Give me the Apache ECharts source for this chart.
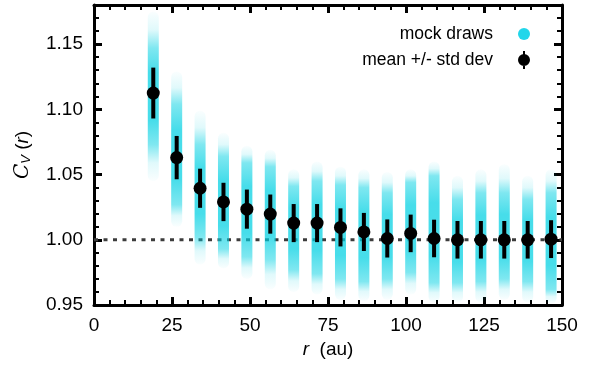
<!DOCTYPE html>
<html><head><meta charset="utf-8">
<script src="https://cdn.jsdelivr.net/npm/echarts@6/dist/echarts.min.js"></script>
<style>html,body{margin:0;padding:0;background:#fff}#c{width:589px;height:365px}</style>
</head><body><div id="c"></div>
<script>
// ---- data ----
const radii      = [19, 26.5, 34, 41.5, 49, 56.5, 64, 71.5, 79, 86.5, 94, 101.5, 109, 116.5, 124, 131.5, 139, 146.5];
const meanCv     = [1.1125, 1.063, 1.0395, 1.029, 1.0235, 1.0197, 1.0128, 1.0128, 1.0095, 1.006, 1.001, 1.0049, 1.001, 1.000, 1.000, 1.000, 1.000, 1.0005];
const stdCv      = [0.0195, 0.0166, 0.015, 0.0147, 0.015, 0.015, 0.0146, 0.0146, 0.0146, 0.0146, 0.0146, 0.0144, 0.0144, 0.0144, 0.0144, 0.0144, 0.0144, 0.0145];
// extents of the mock-draw clouds (faint tail top, dense top, dense bottom, faint tail bottom)
const drawFaintHi = [1.175, 1.129, 1.099, 1.082, 1.072, 1.069, 1.054, 1.060, 1.056, 1.054, 1.052, 1.054, 1.060, 1.049, 1.054, 1.058, 1.049, 1.054];
const drawCoreHi  = [1.147, 1.104, 1.073, 1.064, 1.059, 1.056, 1.041, 1.045, 1.042, 1.040, 1.036, 1.044, 1.049, 1.031, 1.036, 1.036, 1.031, 1.036];
const drawCoreLo  = [1.073, 1.027, 1.002, 0.993, 0.987, 0.985, 0.977, 0.974, 0.970, 0.968, 0.970, 0.975, 0.967, 0.967, 0.968, 0.970, 0.968, 0.962];
const drawFaintLo = [1.045, 1.010, 0.981, 0.978, 0.970, 0.962, 0.960, 0.958, 0.954, 0.953, 0.954, 0.958, 0.952, 0.952, 0.952, 0.954, 0.952, 0.951];
const refLineX = [0, 150];
const refLineY = 1.0;
const xRange = [0, 150];
const yRange = [0.95, 1.18];

const FONT = '"Liberation Sans", Arial, Helvetica, sans-serif';
const CYAN = 'rgba(0,208,226,';

const bandData = radii.map((r, i) => [r, drawFaintHi[i], drawCoreHi[i], drawCoreLo[i], drawFaintLo[i]]);
const errData = radii.map((r, i) => [r, meanCv[i] + stdCv[i], meanCv[i] - stdCv[i]]);
const meanData = radii.map((r, i) => [r, meanCv[i]]);
const refData = refLineX.map(x => [x, refLineY]);

function renderBand(params, api) {
  const x = api.value(0);
  const top = api.coord([x, api.value(1)]);
  const cTop = api.coord([x, api.value(2)]);
  const cBot = api.coord([x, api.value(3)]);
  const bot = api.coord([x, api.value(4)]);
  const w = 11;
  const h = bot[1] - top[1];
  const a = (cTop[1] - top[1]) / h, b = (cBot[1] - top[1]) / h;
  return {
    type: 'rect',
    shape: { x: top[0] - w / 2, y: top[1], width: w, height: h, r: w / 2 },
    style: {
      fill: new echarts.graphic.LinearGradient(0, 0, 0, 1, [
        { offset: 0, color: CYAN + '0.02)' },
        { offset: a * 0.5, color: CYAN + '0.12)' },
        { offset: a, color: CYAN + '0.5)' },
        { offset: a + (b - a) * 0.25, color: CYAN + '0.72)' },
        { offset: a + (b - a) * 0.75, color: CYAN + '0.72)' },
        { offset: b, color: CYAN + '0.5)' },
        { offset: b + (1 - b) * 0.5, color: CYAN + '0.12)' },
        { offset: 1, color: CYAN + '0.02)' }
      ])
    }
  };
}

function renderErr(params, api) {
  const x = api.value(0);
  const p1 = api.coord([x, api.value(1)]);
  const p2 = api.coord([x, api.value(2)]);
  const w = 4;
  return {
    type: 'rect',
    shape: { x: p1[0] - w / 2, y: p1[1], width: w, height: p2[1] - p1[1] },
    style: { fill: '#000' }
  };
}

const axisCommon = {
  axisLine: { show: true, onZero: false, lineStyle: { color: '#000', width: 3 } },
  axisTick: { show: true, inside: true, length: 8, lineStyle: { color: '#000', width: 3 } },
  minorTick: { show: true, splitNumber: 5, length: 5, lineStyle: { color: '#000', width: 2 } },
  splitLine: { show: false }
};

const chart = echarts.init(document.getElementById('c'), null, { renderer: 'canvas' });
chart.setOption({
  animation: false,
  backgroundColor: '#fff',
  grid: { left: 94, right: 27, top: 5, bottom: 60 },
  xAxis: [
    Object.assign({}, axisCommon, {
      type: 'value', position: 'bottom', min: xRange[0], max: xRange[1], interval: 25,
      axisLabel: { color: '#000', fontSize: 19, fontFamily: FONT, margin: 11 },
      name: '{i|r}  (au)', nameLocation: 'middle', nameGap: 33,
      nameTextStyle: { color: '#000', fontSize: 19, fontFamily: FONT,
        rich: { i: { fontStyle: 'italic', fontSize: 19, fontFamily: FONT, color: '#000' } } }
    }),
    Object.assign({}, axisCommon, {
      type: 'value', position: 'top', min: xRange[0], max: xRange[1], interval: 25,
      axisLabel: { show: false }
    })
  ],
  yAxis: [
    Object.assign({}, axisCommon, {
      type: 'value', position: 'left', min: yRange[0], max: yRange[1], interval: 0.05,
      axisLabel: { color: '#000', fontSize: 19, fontFamily: FONT, margin: 11, showMaxLabel: false,
        formatter: v => v.toFixed(2) },
      name: '{c|C}{s|V} ({i|r})', nameLocation: 'middle', nameGap: 61, nameRotate: 90,
      nameTextStyle: { color: '#000', fontSize: 19, fontFamily: FONT,
        rich: {
          c: { fontStyle: 'italic', fontSize: 20, fontFamily: '"DejaVu Serif", serif', color: '#000' },
          s: { fontStyle: 'italic', fontSize: 13, fontFamily: FONT, color: '#000', verticalAlign: 'bottom', padding: [8, 0, 0, 0] },
          i: { fontStyle: 'italic', fontSize: 19, fontFamily: FONT, color: '#000' }
        } }
    }),
    Object.assign({}, axisCommon, {
      type: 'value', position: 'right', min: yRange[0], max: yRange[1], interval: 0.05,
      axisLabel: { show: false }
    })
  ],
  legend: {
    right: 54, top: 20, orient: 'vertical', align: 'right', itemGap: 8,
    itemWidth: 12, itemHeight: 18,
    textStyle: { color: '#000', fontSize: 17.5, fontFamily: FONT, padding: [0, 20, 0, 0] },
    data: [
      { name: 'mock draws', icon: 'circle', itemStyle: { color: '#22D6EA' } },
      { name: 'mean +/- std dev', icon: 'path://M5,0H7V18H5Z M12,9A6,6,0,1,1,0,9A6,6,0,1,1,12,9Z', itemStyle: { color: '#000' } }
    ]
  },
  series: [
    {
      name: 'ref', type: 'line', data: refData, symbol: 'none', silent: true, z: 1,
      lineStyle: { color: '#3c3c3c', width: 3, type: [4, 5.5] }
    },
    {
      name: 'mock draws', type: 'custom', data: bandData, renderItem: renderBand, z: 2, clip: true,
      itemStyle: { color: '#22D6EA' },
      encode: { x: 0, y: [1, 2, 3, 4] }
    },
    {
      name: 'errbar', type: 'custom', data: errData, renderItem: renderErr, z: 3,
      encode: { x: 0, y: [1, 2] }
    },
    {
      name: 'mean +/- std dev', type: 'scatter', data: meanData, symbolSize: 13, z: 4,
      itemStyle: { color: '#000', opacity: 1 }
    }
  ]
});
</script>
</body></html>
